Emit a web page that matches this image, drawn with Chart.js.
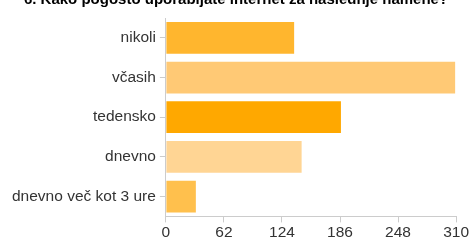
<!DOCTYPE html>
<html>
<head>
<meta charset="utf-8">
<script src="https://cdn.jsdelivr.net/npm/chart.js@4"></script>
<style>
  html, body { margin: 0; padding: 0; background: #fff; }
  #wrap { width: 470px; height: 241px; overflow: hidden; position: relative; }
  #wrap canvas { position: absolute; left: 0; top: -9px; }
</style>
</head>
<body>
<div id="wrap"><canvas id="myChart" width="470" height="252"></canvas></div>
<script>
var title = "6. Kako pogosto uporabljate internet za naslednje namene?";
var labels = ["nikoli", "včasih", "tedensko", "dnevno", "dnevno več kot 3 ure"];
var values = [137, 309, 187, 145, 32];
var barColors = ["#ffb62e", "#ffc975", "#ffa800", "#ffd594", "#ffc04d"];
var xMax = 310;
var xStep = 62;

Chart.defaults.font.family = "'Liberation Sans', Arial, sans-serif";
Chart.defaults.color = "#333";

new Chart("myChart", {
  type: "bar",
  data: {
    labels: labels,
    datasets: [{
      data: values,
      backgroundColor: barColors,
      barPercentage: 0.8,
      categoryPercentage: 1.0
    }]
  },
  options: {
    indexAxis: "y",
    responsive: false,
    animation: false,
    layout: { padding: { left: 8, right: 6, top: 0, bottom: 0 } },
    plugins: {
      legend: { display: false },
      tooltip: { enabled: false },
      title: {
        display: true,
        text: title,
        color: "#000",
        font: { size: 15, weight: "bold" },
        padding: { top: 0, bottom: 9 }
      }
    },
    scales: {
      x: {
        min: 0,
        max: xMax,
        ticks: { stepSize: xStep, font: { size: 15.5 }, padding: 1 },
        grid: { drawOnChartArea: false, tickLength: 6, color: "#ccc" },
        border: { color: "#ccc" }
      },
      y: {
        ticks: { font: { size: 15.5 }, padding: 4 },
        grid: { drawOnChartArea: false, tickLength: 6, color: "#ccc", offset: false },
        border: { color: "#ccc" }
      }
    }
  }
});
</script>
</body>
</html>
